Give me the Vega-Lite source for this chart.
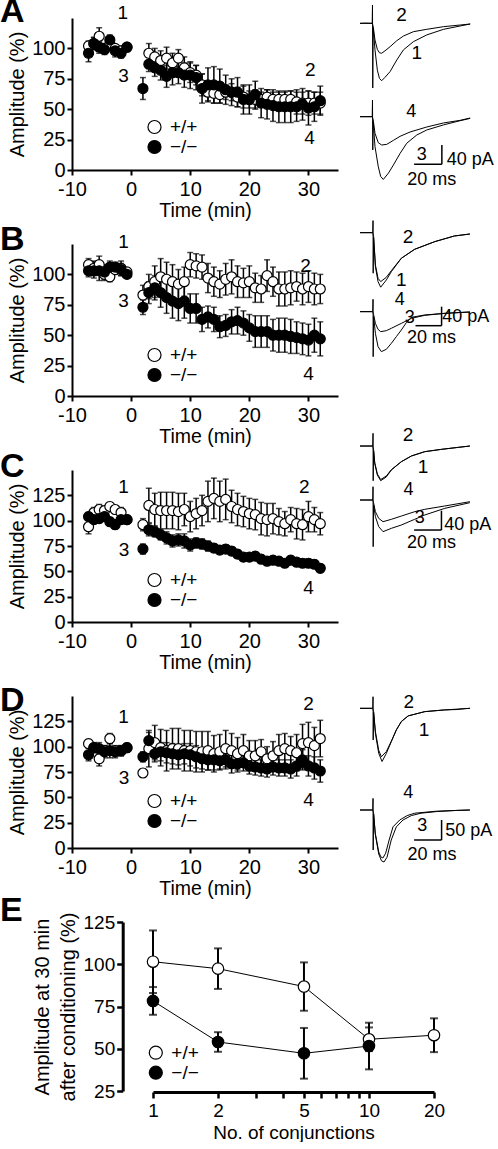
{
"$schema": "https://vega.github.io/schema/vega-lite/v6.json",
"padding": {"top": -5, "left": 0, "right": 0, "bottom": 0},
"background": "white",
"config": {
 "font": "Liberation Sans",
 "view": {"stroke": null},
 "axis": {"labelFont": "Liberation Sans", "titleFont": "Liberation Sans", "labelFontSize": 20, "titleFontSize": 20, "titleFontWeight": "normal", "labelColor": "black", "titleColor": "black", "domainColor": "black", "tickColor": "black", "domainWidth": 2, "tickWidth": 2, "tickSize": 5, "grid": false, "labelPadding": 2, "titlePadding": 4, "labelFlush": false, "labelOverlap": false},
 "axisX": {"titleFontSize": 19.5, "labelPadding": 4, "titlePadding": 2},
 "legend": {"labelFont": "Liberation Sans"},
 "text": {"font": "Liberation Sans", "fontSize": 19, "color": "black"},
 "title": {"font": "Liberation Sans", "fontSize": 34, "fontWeight": "bold", "anchor": "start", "frame": "group", "color": "black", "baseline": "alphabetic"}
},
"datasets": {
 "A": [
  {"g":"+/+","t":-7.2,"m":102,"e":4},{"g":"+/+","t":-6.3,"m":104,"e":5},{"g":"+/+","t":-5.4,"m":110,"e":7},{"g":"+/+","t":-4.5,"m":100,"e":4},{"g":"+/+","t":-3.6,"m":103,"e":4},{"g":"+/+","t":-2.7,"m":100,"e":3},{"g":"+/+","t":-1.7,"m":98,"e":4},{"g":"+/+","t":-0.7,"m":101,"e":3},
  {"g":"+/+","t":3,"m":96,"e":8},{"g":"+/+","t":4,"m":93,"e":7},{"g":"+/+","t":5,"m":90,"e":8},{"g":"+/+","t":6,"m":92,"e":9},{"g":"+/+","t":7,"m":88,"e":8},{"g":"+/+","t":8,"m":92,"e":7},{"g":"+/+","t":9,"m":84,"e":9},{"g":"+/+","t":10,"m":80,"e":8},{"g":"+/+","t":11,"m":78,"e":8},{"g":"+/+","t":12,"m":70,"e":9},{"g":"+/+","t":13,"m":64,"e":7},{"g":"+/+","t":14,"m":63,"e":8},{"g":"+/+","t":15,"m":62,"e":7},{"g":"+/+","t":16,"m":64,"e":6},{"g":"+/+","t":17,"m":64,"e":7},{"g":"+/+","t":18,"m":60,"e":8},{"g":"+/+","t":19,"m":60,"e":9},{"g":"+/+","t":20,"m":58,"e":7},{"g":"+/+","t":21,"m":58,"e":8},{"g":"+/+","t":22,"m":58,"e":6},{"g":"+/+","t":23,"m":60,"e":6},{"g":"+/+","t":24,"m":58,"e":6},{"g":"+/+","t":25,"m":58,"e":6},{"g":"+/+","t":26,"m":58,"e":6},{"g":"+/+","t":27,"m":58,"e":7},{"g":"+/+","t":28,"m":56,"e":10},{"g":"+/+","t":29,"m":55,"e":9},{"g":"+/+","t":30,"m":55,"e":10},{"g":"+/+","t":31,"m":55,"e":9},{"g":"+/+","t":32,"m":55,"e":9},
  {"g":"−/−","t":-7.2,"m":96,"e":7},{"g":"−/−","t":-6.3,"m":104,"e":5},{"g":"−/−","t":-5.4,"m":101,"e":5},{"g":"−/−","t":-4.5,"m":99,"e":4},{"g":"−/−","t":-3.6,"m":107,"e":4},{"g":"−/−","t":-2.7,"m":98,"e":5},{"g":"−/−","t":-1.7,"m":96,"e":4},{"g":"−/−","t":-0.7,"m":101,"e":3},
  {"g":"−/−","t":2,"m":67,"e":9},{"g":"−/−","t":3,"m":87,"e":6},{"g":"−/−","t":4,"m":84,"e":7},{"g":"−/−","t":5,"m":82,"e":8},{"g":"−/−","t":6,"m":77,"e":9},{"g":"−/−","t":7,"m":80,"e":10},{"g":"−/−","t":8,"m":80,"e":9},{"g":"−/−","t":9,"m":78,"e":10},{"g":"−/−","t":10,"m":78,"e":11},{"g":"−/−","t":11,"m":76,"e":10},{"g":"−/−","t":12,"m":67,"e":12},{"g":"−/−","t":13,"m":70,"e":14},{"g":"−/−","t":14,"m":70,"e":15},{"g":"−/−","t":15,"m":69,"e":14},{"g":"−/−","t":16,"m":66,"e":12},{"g":"−/−","t":17,"m":64,"e":11},{"g":"−/−","t":18,"m":64,"e":12},{"g":"−/−","t":19,"m":58,"e":12},{"g":"−/−","t":20,"m":58,"e":12},{"g":"−/−","t":21,"m":62,"e":11},{"g":"−/−","t":22,"m":55,"e":12},{"g":"−/−","t":23,"m":54,"e":12},{"g":"−/−","t":24,"m":53,"e":13},{"g":"−/−","t":25,"m":52,"e":13},{"g":"−/−","t":26,"m":52,"e":13},{"g":"−/−","t":27,"m":52,"e":13},{"g":"−/−","t":28,"m":52,"e":12},{"g":"−/−","t":29,"m":54,"e":13},{"g":"−/−","t":30,"m":51,"e":14},{"g":"−/−","t":31,"m":52,"e":12},{"g":"−/−","t":32,"m":57,"e":12}
 ],
 "B": [
  {"g":"+/+","t":-7.2,"m":108,"e":5},{"g":"+/+","t":-6.3,"m":105,"e":6},{"g":"+/+","t":-5.4,"m":108,"e":7},{"g":"+/+","t":-4.5,"m":100,"e":5},{"g":"+/+","t":-3.6,"m":98,"e":4},{"g":"+/+","t":-2.7,"m":104,"e":4},{"g":"+/+","t":-1.7,"m":105,"e":6},{"g":"+/+","t":-0.7,"m":102,"e":3},
  {"g":"+/+","t":2,"m":83,"e":8},{"g":"+/+","t":3,"m":90,"e":10},{"g":"+/+","t":4,"m":94,"e":13},{"g":"+/+","t":5,"m":98,"e":15},{"g":"+/+","t":6,"m":96,"e":14},{"g":"+/+","t":7,"m":94,"e":14},{"g":"+/+","t":8,"m":92,"e":12},{"g":"+/+","t":9,"m":94,"e":12},{"g":"+/+","t":10,"m":108,"e":10},{"g":"+/+","t":11,"m":107,"e":10},{"g":"+/+","t":12,"m":106,"e":10},{"g":"+/+","t":13,"m":97,"e":12},{"g":"+/+","t":14,"m":94,"e":12},{"g":"+/+","t":15,"m":92,"e":11},{"g":"+/+","t":16,"m":96,"e":13},{"g":"+/+","t":17,"m":98,"e":14},{"g":"+/+","t":18,"m":94,"e":13},{"g":"+/+","t":19,"m":93,"e":12},{"g":"+/+","t":20,"m":94,"e":13},{"g":"+/+","t":21,"m":89,"e":12},{"g":"+/+","t":22,"m":88,"e":11},{"g":"+/+","t":23,"m":99,"e":13},{"g":"+/+","t":24,"m":94,"e":12},{"g":"+/+","t":25,"m":88,"e":14},{"g":"+/+","t":26,"m":88,"e":14},{"g":"+/+","t":27,"m":89,"e":14},{"g":"+/+","t":28,"m":90,"e":12},{"g":"+/+","t":29,"m":88,"e":13},{"g":"+/+","t":30,"m":90,"e":13},{"g":"+/+","t":31,"m":88,"e":13},{"g":"+/+","t":32,"m":88,"e":12},
  {"g":"−/−","t":-7.2,"m":103,"e":5},{"g":"−/−","t":-6.3,"m":103,"e":6},{"g":"−/−","t":-5.4,"m":103,"e":8},{"g":"−/−","t":-4.5,"m":102,"e":6},{"g":"−/−","t":-3.6,"m":106,"e":5},{"g":"−/−","t":-2.7,"m":106,"e":4},{"g":"−/−","t":-1.7,"m":104,"e":5},{"g":"−/−","t":-0.7,"m":100,"e":3},
  {"g":"−/−","t":2,"m":73,"e":6},{"g":"−/−","t":3,"m":85,"e":9},{"g":"−/−","t":4,"m":89,"e":10},{"g":"−/−","t":5,"m":85,"e":12},{"g":"−/−","t":6,"m":81,"e":13},{"g":"−/−","t":7,"m":78,"e":14},{"g":"−/−","t":8,"m":76,"e":14},{"g":"−/−","t":9,"m":78,"e":14},{"g":"−/−","t":10,"m":72,"e":12},{"g":"−/−","t":11,"m":72,"e":12},{"g":"−/−","t":12,"m":63,"e":10},{"g":"−/−","t":13,"m":65,"e":9},{"g":"−/−","t":14,"m":63,"e":10},{"g":"−/−","t":15,"m":57,"e":9},{"g":"−/−","t":16,"m":58,"e":9},{"g":"−/−","t":17,"m":61,"e":10},{"g":"−/−","t":18,"m":62,"e":11},{"g":"−/−","t":19,"m":60,"e":10},{"g":"−/−","t":20,"m":56,"e":11},{"g":"−/−","t":21,"m":53,"e":13},{"g":"−/−","t":22,"m":53,"e":13},{"g":"−/−","t":23,"m":53,"e":13},{"g":"−/−","t":24,"m":50,"e":13},{"g":"−/−","t":25,"m":50,"e":14},{"g":"−/−","t":26,"m":50,"e":14},{"g":"−/−","t":27,"m":49,"e":14},{"g":"−/−","t":28,"m":48,"e":13},{"g":"−/−","t":29,"m":47,"e":13},{"g":"−/−","t":30,"m":46,"e":13},{"g":"−/−","t":31,"m":50,"e":14},{"g":"−/−","t":32,"m":47,"e":14}
 ],
 "C": [
  {"g":"+/+","t":-7.2,"m":94,"e":7},{"g":"+/+","t":-6.3,"m":108,"e":5},{"g":"+/+","t":-5.4,"m":111,"e":5},{"g":"+/+","t":-4.5,"m":110,"e":4},{"g":"+/+","t":-3.6,"m":114,"e":4},{"g":"+/+","t":-2.7,"m":111,"e":4},{"g":"+/+","t":-1.7,"m":108,"e":5},{"g":"+/+","t":-0.7,"m":101,"e":4},
  {"g":"+/+","t":2,"m":96,"e":6},{"g":"+/+","t":3,"m":115,"e":17},{"g":"+/+","t":4,"m":111,"e":16},{"g":"+/+","t":5,"m":110,"e":18},{"g":"+/+","t":6,"m":110,"e":18},{"g":"+/+","t":7,"m":110,"e":18},{"g":"+/+","t":8,"m":109,"e":18},{"g":"+/+","t":9,"m":111,"e":16},{"g":"+/+","t":10,"m":104,"e":15},{"g":"+/+","t":11,"m":107,"e":15},{"g":"+/+","t":12,"m":110,"e":15},{"g":"+/+","t":13,"m":119,"e":20},{"g":"+/+","t":14,"m":122,"e":20},{"g":"+/+","t":15,"m":119,"e":20},{"g":"+/+","t":16,"m":121,"e":20},{"g":"+/+","t":17,"m":114,"e":16},{"g":"+/+","t":18,"m":111,"e":16},{"g":"+/+","t":19,"m":109,"e":15},{"g":"+/+","t":20,"m":107,"e":15},{"g":"+/+","t":21,"m":106,"e":15},{"g":"+/+","t":22,"m":102,"e":16},{"g":"+/+","t":23,"m":101,"e":16},{"g":"+/+","t":24,"m":102,"e":15},{"g":"+/+","t":25,"m":99,"e":13},{"g":"+/+","t":26,"m":97,"e":12},{"g":"+/+","t":27,"m":101,"e":12},{"g":"+/+","t":28,"m":97,"e":15},{"g":"+/+","t":29,"m":96,"e":15},{"g":"+/+","t":30,"m":104,"e":15},{"g":"+/+","t":31,"m":101,"e":12},{"g":"+/+","t":32,"m":97,"e":11},
  {"g":"−/−","t":-7.2,"m":104,"e":4},{"g":"−/−","t":-6.3,"m":101,"e":4},{"g":"−/−","t":-5.4,"m":102,"e":4},{"g":"−/−","t":-4.5,"m":104,"e":4},{"g":"−/−","t":-3.6,"m":99,"e":4},{"g":"−/−","t":-2.7,"m":96,"e":4},{"g":"−/−","t":-1.7,"m":101,"e":4},{"g":"−/−","t":-0.7,"m":101,"e":3},
  {"g":"−/−","t":2,"m":72,"e":5},{"g":"−/−","t":3,"m":91,"e":6},{"g":"−/−","t":4,"m":89,"e":5},{"g":"−/−","t":5,"m":86,"e":5},{"g":"−/−","t":6,"m":83,"e":6},{"g":"−/−","t":7,"m":80,"e":6},{"g":"−/−","t":8,"m":81,"e":6},{"g":"−/−","t":9,"m":80,"e":7},{"g":"−/−","t":10,"m":76,"e":6},{"g":"−/−","t":11,"m":78,"e":5},{"g":"−/−","t":12,"m":77,"e":5},{"g":"−/−","t":13,"m":75,"e":5},{"g":"−/−","t":14,"m":73,"e":4},{"g":"−/−","t":15,"m":71,"e":4},{"g":"−/−","t":16,"m":72,"e":4},{"g":"−/−","t":17,"m":70,"e":4},{"g":"−/−","t":18,"m":67,"e":4},{"g":"−/−","t":19,"m":64,"e":4},{"g":"−/−","t":20,"m":64,"e":4},{"g":"−/−","t":21,"m":65,"e":4},{"g":"−/−","t":22,"m":62,"e":4},{"g":"−/−","t":23,"m":60,"e":4},{"g":"−/−","t":24,"m":61,"e":4},{"g":"−/−","t":25,"m":60,"e":4},{"g":"−/−","t":26,"m":58,"e":4},{"g":"−/−","t":27,"m":61,"e":4},{"g":"−/−","t":28,"m":59,"e":4},{"g":"−/−","t":29,"m":58,"e":4},{"g":"−/−","t":30,"m":58,"e":4},{"g":"−/−","t":31,"m":57,"e":4},{"g":"−/−","t":32,"m":53,"e":4}
 ],
 "D": [
  {"g":"+/+","t":-7.2,"m":103,"e":4},{"g":"+/+","t":-6.3,"m":99,"e":4},{"g":"+/+","t":-5.4,"m":88,"e":7},{"g":"+/+","t":-4.5,"m":96,"e":5},{"g":"+/+","t":-3.6,"m":108,"e":5},{"g":"+/+","t":-2.7,"m":96,"e":4},{"g":"+/+","t":-1.7,"m":96,"e":5},{"g":"+/+","t":-0.7,"m":99,"e":4},
  {"g":"+/+","t":2,"m":74,"e":4},{"g":"+/+","t":3,"m":98,"e":18},{"g":"+/+","t":4,"m":104,"e":17},{"g":"+/+","t":5,"m":99,"e":18},{"g":"+/+","t":6,"m":96,"e":20},{"g":"+/+","t":7,"m":98,"e":20},{"g":"+/+","t":8,"m":98,"e":20},{"g":"+/+","t":9,"m":96,"e":20},{"g":"+/+","t":10,"m":96,"e":20},{"g":"+/+","t":11,"m":95,"e":20},{"g":"+/+","t":12,"m":95,"e":20},{"g":"+/+","t":13,"m":96,"e":19},{"g":"+/+","t":14,"m":93,"e":18},{"g":"+/+","t":15,"m":95,"e":17},{"g":"+/+","t":16,"m":98,"e":18},{"g":"+/+","t":17,"m":96,"e":17},{"g":"+/+","t":18,"m":93,"e":16},{"g":"+/+","t":19,"m":96,"e":16},{"g":"+/+","t":20,"m":91,"e":15},{"g":"+/+","t":21,"m":91,"e":15},{"g":"+/+","t":22,"m":95,"e":12},{"g":"+/+","t":23,"m":88,"e":12},{"g":"+/+","t":24,"m":91,"e":14},{"g":"+/+","t":25,"m":96,"e":16},{"g":"+/+","t":26,"m":98,"e":15},{"g":"+/+","t":27,"m":96,"e":14},{"g":"+/+","t":28,"m":94,"e":18},{"g":"+/+","t":29,"m":103,"e":19},{"g":"+/+","t":30,"m":104,"e":20},{"g":"+/+","t":31,"m":101,"e":18},{"g":"+/+","t":32,"m":108,"e":18},
  {"g":"−/−","t":-7.2,"m":92,"e":6},{"g":"−/−","t":-6.3,"m":99,"e":5},{"g":"−/−","t":-5.4,"m":98,"e":6},{"g":"−/−","t":-4.5,"m":95,"e":6},{"g":"−/−","t":-3.6,"m":96,"e":7},{"g":"−/−","t":-2.7,"m":95,"e":6},{"g":"−/−","t":-1.7,"m":96,"e":5},{"g":"−/−","t":-0.7,"m":99,"e":4},
  {"g":"−/−","t":2,"m":90,"e":5},{"g":"−/−","t":3,"m":106,"e":8},{"g":"−/−","t":4,"m":93,"e":8},{"g":"−/−","t":5,"m":95,"e":9},{"g":"−/−","t":6,"m":94,"e":10},{"g":"−/−","t":7,"m":93,"e":10},{"g":"−/−","t":8,"m":92,"e":10},{"g":"−/−","t":9,"m":93,"e":10},{"g":"−/−","t":10,"m":92,"e":11},{"g":"−/−","t":11,"m":90,"e":11},{"g":"−/−","t":12,"m":88,"e":10},{"g":"−/−","t":13,"m":87,"e":10},{"g":"−/−","t":14,"m":87,"e":10},{"g":"−/−","t":15,"m":86,"e":9},{"g":"−/−","t":16,"m":87,"e":9},{"g":"−/−","t":17,"m":83,"e":9},{"g":"−/−","t":18,"m":83,"e":8},{"g":"−/−","t":19,"m":84,"e":8},{"g":"−/−","t":20,"m":81,"e":8},{"g":"−/−","t":21,"m":80,"e":8},{"g":"−/−","t":22,"m":79,"e":8},{"g":"−/−","t":23,"m":78,"e":8},{"g":"−/−","t":24,"m":80,"e":8},{"g":"−/−","t":25,"m":79,"e":8},{"g":"−/−","t":26,"m":79,"e":8},{"g":"−/−","t":27,"m":78,"e":9},{"g":"−/−","t":28,"m":81,"e":10},{"g":"−/−","t":29,"m":87,"e":10},{"g":"−/−","t":30,"m":81,"e":10},{"g":"−/−","t":31,"m":79,"e":11},{"g":"−/−","t":32,"m":76,"e":11}
 ],
 "E": [
  {"g":"+/+","n":1,"m":101.5,"e":18.5},{"g":"+/+","n":2,"m":97.4,"e":12},{"g":"+/+","n":5,"m":86.8,"e":14.3},{"g":"+/+","n":10,"m":55.6,"e":7},{"g":"+/+","n":20,"m":58,"e":10},
  {"g":"−/−","n":1,"m":78.3,"e":8.2},{"g":"−/−","n":2,"m":54,"e":5.8},{"g":"−/−","n":5,"m":47.3,"e":15},{"g":"−/−","n":10,"m":51.6,"e":13.8}
 ],
 "lA": [{"label":"1","t":-1.4,"m":129},{"label":"3","t":-1.3,"m":77.7},{"label":"2","t":30.3,"m":82.6},{"label":"4","t":30.2,"m":26.4}],
 "lB": [{"label":"1","t":-1.3,"m":127},{"label":"3","t":-1.3,"m":78},{"label":"2","t":29.5,"m":106.5},{"label":"4","t":30,"m":18}],
 "lC": [{"label":"1","t":-1.3,"m":133.7},{"label":"3","t":-1.2,"m":71},{"label":"2","t":29.3,"m":133.7},{"label":"4","t":30,"m":33.7}],
 "lD": [{"label":"1","t":-1.3,"m":129},{"label":"3","t":-1.2,"m":68.6},{"label":"2","t":30,"m":142},{"label":"4","t":30,"m":47}],
 "tA1": [
  {"tr":"1","ms":0,"pA":0},{"tr":"1","ms":4,"pA":0.5},{"tr":"1","ms":8.8,"pA":0},{"tr":"1","ms":9.0,"pA":38},{"tr":"1","ms":9.2,"pA":-134},{"tr":"1","ms":9.5,"pA":-10},{"tr":"1","ms":10.8,"pA":-55},{"tr":"1","ms":12.5,"pA":-97},{"tr":"1","ms":14,"pA":-114},{"tr":"1","ms":15.6,"pA":-119},{"tr":"1","ms":18,"pA":-112},{"tr":"1","ms":21.7,"pA":-100},{"tr":"1","ms":26.5,"pA":-76},{"tr":"1","ms":31.3,"pA":-55},{"tr":"1","ms":38.5,"pA":-38},{"tr":"1","ms":48.1,"pA":-24},{"tr":"1","ms":60.2,"pA":-12.4},{"tr":"1","ms":72.2,"pA":-5.5},{"tr":"1","ms":79.4,"pA":-1.4},
  {"tr":"2","ms":0,"pA":0},{"tr":"2","ms":8.8,"pA":0},{"tr":"2","ms":9.5,"pA":-6},{"tr":"2","ms":10.8,"pA":-34.5},{"tr":"2","ms":12.5,"pA":-54},{"tr":"2","ms":14,"pA":-61},{"tr":"2","ms":15.6,"pA":-62},{"tr":"2","ms":18,"pA":-57},{"tr":"2","ms":21.7,"pA":-48.4},{"tr":"2","ms":26.5,"pA":-36},{"tr":"2","ms":31.3,"pA":-26.3},{"tr":"2","ms":38.5,"pA":-17.3},{"tr":"2","ms":48.1,"pA":-12.4},{"tr":"2","ms":60.2,"pA":-6.9},{"tr":"2","ms":72.2,"pA":-3.5},{"tr":"2","ms":79.4,"pA":-1.4}
 ],
 "tA2": [
  {"tr":"3","ms":0,"pA":0},{"tr":"3","ms":8.8,"pA":0},{"tr":"3","ms":9.0,"pA":34.5},{"tr":"3","ms":9.2,"pA":-69},{"tr":"3","ms":9.5,"pA":-10},{"tr":"3","ms":10.8,"pA":-62},{"tr":"3","ms":13.2,"pA":-104},{"tr":"3","ms":14.9,"pA":-124},{"tr":"3","ms":16.8,"pA":-130},{"tr":"3","ms":20.5,"pA":-117},{"tr":"3","ms":24.1,"pA":-100},{"tr":"3","ms":28.9,"pA":-76},{"tr":"3","ms":33.7,"pA":-55},{"tr":"3","ms":40.9,"pA":-38},{"tr":"3","ms":48.1,"pA":-27.6},{"tr":"3","ms":60.2,"pA":-17},{"tr":"3","ms":72.2,"pA":-8.3},{"tr":"3","ms":79.4,"pA":-3.5},
  {"tr":"4","ms":0,"pA":0},{"tr":"4","ms":8.8,"pA":0},{"tr":"4","ms":9.5,"pA":-6},{"tr":"4","ms":10.8,"pA":-34.5},{"tr":"4","ms":13.2,"pA":-54},{"tr":"4","ms":15.6,"pA":-58.7},{"tr":"4","ms":19.3,"pA":-57.3},{"tr":"4","ms":24.1,"pA":-49},{"tr":"4","ms":28.9,"pA":-40.7},{"tr":"4","ms":36.1,"pA":-31.7},{"tr":"4","ms":48.1,"pA":-21.4},{"tr":"4","ms":60.2,"pA":-13},{"tr":"4","ms":72.2,"pA":-7.6},{"tr":"4","ms":79.4,"pA":-2.8}
 ],
 "lA1": [{"label":"2","ms":30,"pA":17},{"label":"1","ms":41,"pA":-62}],
 "lA2": [{"label":"4","ms":37,"pA":10},{"label":"3","ms":44.5,"pA":-79},{"label":"40 pA","ms":79.4,"pA":-90},{"label":"20 ms","ms":51.7,"pA":-131}],
 "sA": [{"ms":39,"ms2":59,"pA":-98.6,"pA2":-98.6},{"ms":59,"ms2":59,"pA":-98.6,"pA2":-58.6}],
 "tB1": [
  {"tr":"1","ms":0,"pA":0},{"tr":"1","ms":9.2,"pA":0},{"tr":"1","ms":9.4,"pA":25},{"tr":"1","ms":9.5,"pA":-84},{"tr":"1","ms":9.8,"pA":-10},{"tr":"1","ms":11.1,"pA":-70},{"tr":"1","ms":13,"pA":-101.5},{"tr":"1","ms":14.9,"pA":-113},{"tr":"1","ms":19,"pA":-98},{"tr":"1","ms":22.6,"pA":-80.8},{"tr":"1","ms":29.8,"pA":-53},{"tr":"1","ms":39.4,"pA":-34.5},{"tr":"1","ms":53.9,"pA":-18.6},{"tr":"1","ms":68,"pA":-6.9},{"tr":"1","ms":79.2,"pA":-2.8},
  {"tr":"2","ms":0,"pA":0},{"tr":"2","ms":9.2,"pA":0},{"tr":"2","ms":9.8,"pA":-8},{"tr":"2","ms":11.1,"pA":-67},{"tr":"2","ms":13,"pA":-94.6},{"tr":"2","ms":14.9,"pA":-101.5},{"tr":"2","ms":19,"pA":-92.5},{"tr":"2","ms":22.6,"pA":-78.7},{"tr":"2","ms":29.8,"pA":-53},{"tr":"2","ms":39.4,"pA":-34.5},{"tr":"2","ms":53.9,"pA":-18.6},{"tr":"2","ms":68,"pA":-6.9},{"tr":"2","ms":79.2,"pA":-2.8}
 ],
 "tB2": [
  {"tr":"3","ms":0,"pA":0},{"tr":"3","ms":9.2,"pA":0},{"tr":"3","ms":9.4,"pA":25.6},{"tr":"3","ms":9.5,"pA":-93.3},{"tr":"3","ms":9.8,"pA":-10},{"tr":"3","ms":11.1,"pA":-44.9},{"tr":"3","ms":13,"pA":-72.5},{"tr":"3","ms":15.4,"pA":-82.9},{"tr":"3","ms":19,"pA":-78},{"tr":"3","ms":22.6,"pA":-65.6},{"tr":"3","ms":26.2,"pA":-51.8},{"tr":"3","ms":29.8,"pA":-38},{"tr":"3","ms":33.4,"pA":-22.8},{"tr":"3","ms":37.1,"pA":-11.7},{"tr":"3","ms":46.7,"pA":-6.9},{"tr":"3","ms":61.1,"pA":-3.5},{"tr":"3","ms":79.2,"pA":-0.7},
  {"tr":"4","ms":0,"pA":0},{"tr":"4","ms":9.2,"pA":0},{"tr":"4","ms":9.8,"pA":-6},{"tr":"4","ms":11.1,"pA":-24.2},{"tr":"4","ms":13,"pA":-36.6},{"tr":"4","ms":14.9,"pA":-41.4},{"tr":"4","ms":19,"pA":-39.4},{"tr":"4","ms":22.6,"pA":-34.5},{"tr":"4","ms":29.8,"pA":-24.2},{"tr":"4","ms":37.1,"pA":-13.8},{"tr":"4","ms":46.7,"pA":-7.6},{"tr":"4","ms":61.1,"pA":-3.5},{"tr":"4","ms":79.2,"pA":-0.7}
 ],
 "lB1": [{"label":"2","ms":34.7,"pA":-8.3},{"label":"1","ms":29.8,"pA":-98}],
 "lB2": [{"label":"4","ms":28.7,"pA":24.2},{"label":"3","ms":35.9,"pA":-13.8},{"label":"40 pA","ms":76.2,"pA":-10.4},{"label":"20 ms","ms":51.5,"pA":-55}],
 "sB": [{"ms":40,"ms2":58.8,"pA":-29.1,"pA2":-29.1},{"ms":58.8,"ms2":58.8,"pA":-29.1,"pA2":10.3}],
 "tC1": [
  {"tr":"1","ms":0,"pA":0},{"tr":"1","ms":9.2,"pA":0},{"tr":"1","ms":9.4,"pA":26.3},{"tr":"1","ms":9.5,"pA":-72},{"tr":"1","ms":9.8,"pA":-10},{"tr":"1","ms":10.6,"pA":-36},{"tr":"1","ms":12.5,"pA":-60},{"tr":"1","ms":14.9,"pA":-71.9},{"tr":"1","ms":19,"pA":-64},{"tr":"1","ms":22.6,"pA":-49.7},{"tr":"1","ms":29.8,"pA":-32.5},{"tr":"1","ms":37,"pA":-20.7},{"tr":"1","ms":46.7,"pA":-11.7},{"tr":"1","ms":58.7,"pA":-6.9},{"tr":"1","ms":70.7,"pA":-2.8},{"tr":"1","ms":79.2,"pA":0},
  {"tr":"2","ms":0,"pA":0},{"tr":"2","ms":9.2,"pA":0},{"tr":"2","ms":9.8,"pA":-8},{"tr":"2","ms":10.6,"pA":-34},{"tr":"2","ms":12.5,"pA":-58},{"tr":"2","ms":14.9,"pA":-69.5},{"tr":"2","ms":19,"pA":-62},{"tr":"2","ms":22.6,"pA":-49},{"tr":"2","ms":29.8,"pA":-32.5},{"tr":"2","ms":37,"pA":-20.7},{"tr":"2","ms":46.7,"pA":-11.7},{"tr":"2","ms":58.7,"pA":-6.9},{"tr":"2","ms":70.7,"pA":-2.8},{"tr":"2","ms":79.2,"pA":0}
 ],
 "tC2": [
  {"tr":"3","ms":0,"pA":0},{"tr":"3","ms":9.2,"pA":0},{"tr":"3","ms":9.4,"pA":27.6},{"tr":"3","ms":9.5,"pA":-96.7},{"tr":"3","ms":9.8,"pA":-10},{"tr":"3","ms":11.1,"pA":-34.5},{"tr":"3","ms":13.5,"pA":-55.3},{"tr":"3","ms":16.6,"pA":-65.6},{"tr":"3","ms":22.6,"pA":-58.7},{"tr":"3","ms":29.8,"pA":-51.8},{"tr":"3","ms":39.4,"pA":-40},{"tr":"3","ms":46.7,"pA":-31},{"tr":"3","ms":61.1,"pA":-17.3},{"tr":"3","ms":79.2,"pA":-5.5},
  {"tr":"4","ms":0,"pA":0},{"tr":"4","ms":9.2,"pA":0},{"tr":"4","ms":9.8,"pA":-6},{"tr":"4","ms":11.1,"pA":-24.2},{"tr":"4","ms":13.5,"pA":-38},{"tr":"4","ms":16.6,"pA":-44.9},{"tr":"4","ms":22.6,"pA":-40},{"tr":"4","ms":29.8,"pA":-33.2},{"tr":"4","ms":39.4,"pA":-24.2},{"tr":"4","ms":46.7,"pA":-19.3},{"tr":"4","ms":61.1,"pA":-12.4},{"tr":"4","ms":79.2,"pA":-3.5}
 ],
 "lC1": [{"label":"2","ms":34.7,"pA":22.8},{"label":"1","ms":45.5,"pA":-43}],
 "lC2": [{"label":"4","ms":35,"pA":20.7},{"label":"3","ms":43,"pA":-38},{"label":"40 pA","ms":77.6,"pA":-51.8},{"label":"20 ms","ms":51.5,"pA":-90}],
 "sC": [{"ms":39,"ms2":58.7,"pA":-62.2,"pA2":-62.2},{"ms":58.7,"ms2":58.7,"pA":-62.2,"pA2":-22.2}],
 "tD1": [
  {"tr":"1","ms":0,"pA":0},{"tr":"1","ms":9.2,"pA":0},{"tr":"1","ms":9.4,"pA":29},{"tr":"1","ms":9.5,"pA":-79},{"tr":"1","ms":9.8,"pA":-10},{"tr":"1","ms":11.1,"pA":-62.5},{"tr":"1","ms":13.5,"pA":-112.5},{"tr":"1","ms":15.9,"pA":-133},{"tr":"1","ms":19,"pA":-112.5},{"tr":"1","ms":22.6,"pA":-83},{"tr":"1","ms":26.2,"pA":-54},{"tr":"1","ms":29.8,"pA":-33},{"tr":"1","ms":34.7,"pA":-19},{"tr":"1","ms":46.7,"pA":-8.3},{"tr":"1","ms":61,"pA":-4},{"tr":"1","ms":79.2,"pA":0},
  {"tr":"2","ms":0,"pA":0},{"tr":"2","ms":9.2,"pA":0},{"tr":"2","ms":9.8,"pA":-8},{"tr":"2","ms":11.1,"pA":-58},{"tr":"2","ms":13.5,"pA":-105},{"tr":"2","ms":15.4,"pA":-121},{"tr":"2","ms":19,"pA":-108},{"tr":"2","ms":22.6,"pA":-82},{"tr":"2","ms":26.2,"pA":-54},{"tr":"2","ms":29.8,"pA":-33},{"tr":"2","ms":34.7,"pA":-19},{"tr":"2","ms":46.7,"pA":-8.3},{"tr":"2","ms":61,"pA":-4},{"tr":"2","ms":70,"pA":-3},{"tr":"2","ms":75,"pA":-1},{"tr":"2","ms":79.2,"pA":0}
 ],
 "tD2": [
  {"tr":"3","ms":0,"pA":0},{"tr":"3","ms":9.2,"pA":0},{"tr":"3","ms":9.4,"pA":29},{"tr":"3","ms":9.5,"pA":-100},{"tr":"3","ms":9.8,"pA":-10},{"tr":"3","ms":11,"pA":-60},{"tr":"3","ms":13.5,"pA":-110},{"tr":"3","ms":15.5,"pA":-127},{"tr":"3","ms":17.3,"pA":-130},{"tr":"3","ms":19.5,"pA":-118},{"tr":"3","ms":22.5,"pA":-75},{"tr":"3","ms":26.2,"pA":-42},{"tr":"3","ms":31,"pA":-25},{"tr":"3","ms":37,"pA":-14},{"tr":"3","ms":44,"pA":-8},{"tr":"3","ms":55,"pA":-4},{"tr":"3","ms":70,"pA":-1},{"tr":"3","ms":79.2,"pA":0},
  {"tr":"4","ms":0,"pA":0},{"tr":"4","ms":9.2,"pA":0},{"tr":"4","ms":9.8,"pA":-8},{"tr":"4","ms":11,"pA":-58},{"tr":"4","ms":13.5,"pA":-105},{"tr":"4","ms":15,"pA":-117},{"tr":"4","ms":16.5,"pA":-120},{"tr":"4","ms":18.5,"pA":-108},{"tr":"4","ms":21,"pA":-75},{"tr":"4","ms":23.8,"pA":-42},{"tr":"4","ms":28.6,"pA":-25},{"tr":"4","ms":34,"pA":-14},{"tr":"4","ms":39.5,"pA":-8},{"tr":"4","ms":55,"pA":-3},{"tr":"4","ms":70,"pA":-1},{"tr":"4","ms":79.2,"pA":0}
 ],
 "lD1": [{"label":"2","ms":35.2,"pA":16.6},{"label":"1","ms":46.2,"pA":-54}],
 "lD2": [{"label":"4","ms":34.7,"pA":42},{"label":"3","ms":44.8,"pA":-40},{"label":"50 pA","ms":78.3,"pA":-52},{"label":"20 ms","ms":51.9,"pA":-112}],
 "sD": [{"ms":39,"ms2":58.8,"pA":-75,"pA2":-75},{"ms":58.8,"ms2":58.8,"pA":-75,"pA2":-25}]
},
"concat": [
  {"width": 266, "height": 152,
   "title": {"text": "A", "dx": -72, "offset": -25},
   "data": {"name": "A"},
   "encoding": {
    "x": {"field": "t", "type": "quantitative", "scale": {"domain": [-10, 35], "nice": false, "zero": false}, "axis": {"values": [-10, 0, 10, 20, 30], "labelExpr": "replace(datum.label, '−', '-')", "title": "Time (min)"}},
    "y": {"field": "m", "type": "quantitative", "scale": {"domain": [0, 125], "nice": false}, "axis": {"values": [0, 25, 50, 75, 100], "title": "Amplitude (%)"}}
   },
   "layer": [
    {"data": {"values": [{}]}, "mark": {"type": "rule", "strokeDash": [3, 3], "strokeWidth": 1.2, "color": "black"}, "encoding": {"x": {"datum": 0}, "x2": {"datum": 33}, "y": {"datum": 100}}},
    {"mark": {"type": "errorbar", "color": "black", "thickness": 1.5, "ticks": {"size": 6, "thickness": 1.5, "color": "black"}, "rule": {"strokeWidth": 1.5, "color": "black"}}, "encoding": {"yError": {"field": "e"}}},
    {"mark": {"type": "point", "shape": "circle", "filled": true, "size": 100, "stroke": "black", "strokeWidth": 1.2, "opacity": 1}, "encoding": {"fill": {"field": "g", "type": "nominal", "scale": {"domain": ["+/+", "−/−"], "range": ["white", "black"]}, "legend": {"title": null, "orient": "none", "legendX": 73, "legendY": 99.5, "symbolType": "circle", "symbolSize": 170, "symbolStrokeColor": "black", "symbolStrokeWidth": 1.2, "symbolOpacity": 1, "labelFontSize": 19, "labelColor": "black", "labelOffset": 6, "rowPadding": -1, "padding": 0}}}},
    {"data": {"name": "lA"}, "mark": {"type": "text", "fontSize": 19}, "encoding": {"text": {"field": "label"}}}
   ]
  },
  {"width": 111, "height": 152,
   "resolve": {"scale": {"y": "independent"}},
   "encoding": {"x": {"field": "ms", "type": "quantitative", "scale": {"domain": [0, 80], "nice": false, "zero": false}, "axis": null}},
   "layer": [
    {"data": {"name": "tA1"}, "mark": {"type": "line", "color": "black", "strokeWidth": 1}, "encoding": {"y": {"field": "pA", "type": "quantitative", "scale": {"domain": [-304, 11.05], "nice": false, "zero": false}, "axis": null}, "detail": {"field": "tr"}}},
    {"data": {"name": "lA1"}, "mark": {"type": "text", "fontSize": 19}, "encoding": {"y": {"field": "pA", "type": "quantitative", "scale": {"domain": [-304, 11.05], "nice": false, "zero": false}, "axis": null}, "text": {"field": "label"}}},
    {"data": {"name": "tA2"}, "mark": {"type": "line", "color": "black", "strokeWidth": 1}, "encoding": {"y": {"field": "pA", "type": "quantitative", "scale": {"domain": [-110.5, 204.5], "nice": false, "zero": false}, "axis": null}, "detail": {"field": "tr"}}},
    {"data": {"name": "lA2"}, "mark": {"type": "text", "fontSize": 18}, "encoding": {"y": {"field": "pA", "type": "quantitative", "scale": {"domain": [-110.5, 204.5], "nice": false, "zero": false}, "axis": null}, "text": {"field": "label"}}},
    {"data": {"name": "sA"}, "mark": {"type": "rule", "color": "black", "strokeWidth": 1.5}, "encoding": {"x2": {"field": "ms2"}, "y": {"field": "pA", "type": "quantitative", "scale": {"domain": [-110.5, 204.5], "nice": false, "zero": false}, "axis": null}, "y2": {"field": "pA2"}}}
   ]
  },
  {"width": 266, "height": 152,
   "title": {"text": "B", "dx": -72, "offset": -24},
   "data": {"name": "B"},
   "encoding": {
    "x": {"field": "t", "type": "quantitative", "scale": {"domain": [-10, 35], "nice": false, "zero": false}, "axis": {"values": [-10, 0, 10, 20, 30], "labelExpr": "replace(datum.label, '−', '-')", "title": "Time (min)"}},
    "y": {"field": "m", "type": "quantitative", "scale": {"domain": [0, 125], "nice": false}, "axis": {"values": [0, 25, 50, 75, 100], "title": "Amplitude (%)"}}
   },
   "layer": [
    {"data": {"values": [{}]}, "mark": {"type": "rule", "strokeDash": [3, 3], "strokeWidth": 1.2, "color": "black"}, "encoding": {"x": {"datum": 0}, "x2": {"datum": 33}, "y": {"datum": 100}}},
    {"mark": {"type": "errorbar", "color": "black", "thickness": 1.5, "ticks": {"size": 6, "thickness": 1.5, "color": "black"}, "rule": {"strokeWidth": 1.5, "color": "black"}}, "encoding": {"yError": {"field": "e"}}},
    {"mark": {"type": "point", "shape": "circle", "filled": true, "size": 100, "stroke": "black", "strokeWidth": 1.2, "opacity": 1}, "encoding": {"fill": {"field": "g", "type": "nominal", "scale": {"domain": ["+/+", "−/−"], "range": ["white", "black"]}, "legend": {"title": null, "orient": "none", "legendX": 73, "legendY": 101.5, "symbolType": "circle", "symbolSize": 170, "symbolStrokeColor": "black", "symbolStrokeWidth": 1.2, "symbolOpacity": 1, "labelFontSize": 19, "labelColor": "black", "labelOffset": 6, "rowPadding": -1, "padding": 0}}}},
    {"data": {"name": "lB"}, "mark": {"type": "text", "fontSize": 19}, "encoding": {"text": {"field": "label"}}}
   ]
  },
  {"width": 111, "height": 152,
   "resolve": {"scale": {"y": "independent"}},
   "encoding": {"x": {"field": "ms", "type": "quantitative", "scale": {"domain": [0, 80], "nice": false, "zero": false}, "axis": null}},
   "layer": [
    {"data": {"name": "tB1"}, "mark": {"type": "line", "color": "black", "strokeWidth": 1}, "encoding": {"y": {"field": "pA", "type": "quantitative", "scale": {"domain": [-338.5, -23.5], "nice": false, "zero": false}, "axis": null}, "detail": {"field": "tr"}}},
    {"data": {"name": "lB1"}, "mark": {"type": "text", "fontSize": 19}, "encoding": {"y": {"field": "pA", "type": "quantitative", "scale": {"domain": [-338.5, -23.5], "nice": false, "zero": false}, "axis": null}, "text": {"field": "label"}}},
    {"data": {"name": "tB2"}, "mark": {"type": "line", "color": "black", "strokeWidth": 1}, "encoding": {"y": {"field": "pA", "type": "quantitative", "scale": {"domain": [-174.8, 140.2], "nice": false, "zero": false}, "axis": null}, "detail": {"field": "tr"}}},
    {"data": {"name": "lB2"}, "mark": {"type": "text", "fontSize": 18}, "encoding": {"y": {"field": "pA", "type": "quantitative", "scale": {"domain": [-174.8, 140.2], "nice": false, "zero": false}, "axis": null}, "text": {"field": "label"}}},
    {"data": {"name": "sB"}, "mark": {"type": "rule", "color": "black", "strokeWidth": 1.5}, "encoding": {"x2": {"field": "ms2"}, "y": {"field": "pA", "type": "quantitative", "scale": {"domain": [-174.8, 140.2], "nice": false, "zero": false}, "axis": null}, "y2": {"field": "pA2"}}}
   ]
  },
  {"width": 266, "height": 152,
   "title": {"text": "C", "dx": -72, "offset": -14},
   "data": {"name": "C"},
   "encoding": {
    "x": {"field": "t", "type": "quantitative", "scale": {"domain": [-10, 35], "nice": false, "zero": false}, "axis": {"values": [-10, 0, 10, 20, 30], "labelExpr": "replace(datum.label, '−', '-')", "title": "Time (min)"}},
    "y": {"field": "m", "type": "quantitative", "scale": {"domain": [0, 150], "nice": false}, "axis": {"values": [0, 25, 50, 75, 100, 125], "title": "Amplitude (%)"}}
   },
   "layer": [
    {"data": {"values": [{}]}, "mark": {"type": "rule", "strokeDash": [3, 3], "strokeWidth": 1.2, "color": "black"}, "encoding": {"x": {"datum": 0}, "x2": {"datum": 33}, "y": {"datum": 100}}},
    {"mark": {"type": "errorbar", "color": "black", "thickness": 1.5, "ticks": {"size": 6, "thickness": 1.5, "color": "black"}, "rule": {"strokeWidth": 1.5, "color": "black"}}, "encoding": {"yError": {"field": "e"}}},
    {"mark": {"type": "point", "shape": "circle", "filled": true, "size": 100, "stroke": "black", "strokeWidth": 1.2, "opacity": 1}, "encoding": {"fill": {"field": "g", "type": "nominal", "scale": {"domain": ["+/+", "−/−"], "range": ["white", "black"]}, "legend": {"title": null, "orient": "none", "legendX": 73, "legendY": 100.5, "symbolType": "circle", "symbolSize": 170, "symbolStrokeColor": "black", "symbolStrokeWidth": 1.2, "symbolOpacity": 1, "labelFontSize": 19, "labelColor": "black", "labelOffset": 6, "rowPadding": -1, "padding": 0}}}},
    {"data": {"name": "lC"}, "mark": {"type": "text", "fontSize": 19}, "encoding": {"text": {"field": "label"}}}
   ]
  },
  {"width": 111, "height": 152,
   "resolve": {"scale": {"y": "independent"}},
   "encoding": {"x": {"field": "ms", "type": "quantitative", "scale": {"domain": [0, 80], "nice": false, "zero": false}, "axis": null}},
   "layer": [
    {"data": {"name": "tC1"}, "mark": {"type": "line", "color": "black", "strokeWidth": 1}, "encoding": {"y": {"field": "pA", "type": "quantitative", "scale": {"domain": [-364.8, -49.7], "nice": false, "zero": false}, "axis": null}, "detail": {"field": "tr"}}},
    {"data": {"name": "lC1"}, "mark": {"type": "text", "fontSize": 19}, "encoding": {"y": {"field": "pA", "type": "quantitative", "scale": {"domain": [-364.8, -49.7], "nice": false, "zero": false}, "axis": null}, "text": {"field": "label"}}},
    {"data": {"name": "tC2"}, "mark": {"type": "line", "color": "black", "strokeWidth": 1}, "encoding": {"y": {"field": "pA", "type": "quantitative", "scale": {"domain": [-252.8, 62.2], "nice": false, "zero": false}, "axis": null}, "detail": {"field": "tr"}}},
    {"data": {"name": "lC2"}, "mark": {"type": "text", "fontSize": 18}, "encoding": {"y": {"field": "pA", "type": "quantitative", "scale": {"domain": [-252.8, 62.2], "nice": false, "zero": false}, "axis": null}, "text": {"field": "label"}}},
    {"data": {"name": "sC"}, "mark": {"type": "rule", "color": "black", "strokeWidth": 1.5}, "encoding": {"x2": {"field": "ms2"}, "y": {"field": "pA", "type": "quantitative", "scale": {"domain": [-252.8, 62.2], "nice": false, "zero": false}, "axis": null}, "y2": {"field": "pA2"}}}
   ]
  },
  {"width": 266, "height": 152,
   "title": {"text": "D", "dx": -72, "offset": -23},
   "data": {"name": "D"},
   "encoding": {
    "x": {"field": "t", "type": "quantitative", "scale": {"domain": [-10, 35], "nice": false, "zero": false}, "axis": {"values": [-10, 0, 10, 20, 30], "labelExpr": "replace(datum.label, '−', '-')", "title": "Time (min)"}},
    "y": {"field": "m", "type": "quantitative", "scale": {"domain": [0, 150], "nice": false}, "axis": {"values": [0, 25, 50, 75, 100, 125], "title": "Amplitude (%)"}}
   },
   "layer": [
    {"data": {"values": [{}]}, "mark": {"type": "rule", "strokeDash": [3, 3], "strokeWidth": 1.2, "color": "black"}, "encoding": {"x": {"datum": 0}, "x2": {"datum": 33}, "y": {"datum": 100}}},
    {"mark": {"type": "errorbar", "color": "black", "thickness": 1.5, "ticks": {"size": 6, "thickness": 1.5, "color": "black"}, "rule": {"strokeWidth": 1.5, "color": "black"}}, "encoding": {"yError": {"field": "e"}}},
    {"mark": {"type": "point", "shape": "circle", "filled": true, "size": 100, "stroke": "black", "strokeWidth": 1.2, "opacity": 1}, "encoding": {"fill": {"field": "g", "type": "nominal", "scale": {"domain": ["+/+", "−/−"], "range": ["white", "black"]}, "legend": {"title": null, "orient": "none", "legendX": 73, "legendY": 95.5, "symbolType": "circle", "symbolSize": 170, "symbolStrokeColor": "black", "symbolStrokeWidth": 1.2, "symbolOpacity": 1, "labelFontSize": 19, "labelColor": "black", "labelOffset": 6, "rowPadding": -1, "padding": 0}}}},
    {"data": {"name": "lD"}, "mark": {"type": "text", "fontSize": 19}, "encoding": {"text": {"field": "label"}}}
   ]
  },
  {"width": 111, "height": 152,
   "resolve": {"scale": {"y": "independent"}},
   "encoding": {"x": {"field": "ms", "type": "quantitative", "scale": {"domain": [0, 80], "nice": false, "zero": false}, "axis": null}},
   "layer": [
    {"data": {"name": "tD1"}, "mark": {"type": "line", "color": "black", "strokeWidth": 1}, "encoding": {"y": {"field": "pA", "type": "quantitative", "scale": {"domain": [-349.2, 30.8], "nice": false, "zero": false}, "axis": null}, "detail": {"field": "tr"}}},
    {"data": {"name": "lD1"}, "mark": {"type": "text", "fontSize": 19}, "encoding": {"y": {"field": "pA", "type": "quantitative", "scale": {"domain": [-349.2, 30.8], "nice": false, "zero": false}, "axis": null}, "text": {"field": "label"}}},
    {"data": {"name": "tD2"}, "mark": {"type": "line", "color": "black", "strokeWidth": 1}, "encoding": {"y": {"field": "pA", "type": "quantitative", "scale": {"domain": [-95, 285], "nice": false, "zero": false}, "axis": null}, "detail": {"field": "tr"}}},
    {"data": {"name": "lD2"}, "mark": {"type": "text", "fontSize": 18}, "encoding": {"y": {"field": "pA", "type": "quantitative", "scale": {"domain": [-95, 285], "nice": false, "zero": false}, "axis": null}, "text": {"field": "label"}}},
    {"data": {"name": "sD"}, "mark": {"type": "rule", "color": "black", "strokeWidth": 1.5}, "encoding": {"x2": {"field": "ms2"}, "y": {"field": "pA", "type": "quantitative", "scale": {"domain": [-95, 285], "nice": false, "zero": false}, "axis": null}, "y2": {"field": "pA2"}}}
   ]
  },
 {"width": 266, "height": 169,
  "title": {"text": "E", "dx": -72, "offset": -16},
  "data": {"name": "E"},
  "encoding": {
   "x": {"field": "n", "type": "quantitative", "scale": {"type": "log", "domain": [1, 20], "range": [81, 362], "nice": false}, "axis": {"values": [1, 2, 3, 4, 5, 6, 7, 8, 9, 10, 20], "labelExpr": "indexof([1,2,5,10,20], datum.value) >= 0 ? datum.label : ''", "title": "No. of conjunctions", "titleFontSize": 19, "labelFontSize": 19, "labelPadding": 3, "titlePadding": 3, "domainWidth": 3, "tickWidth": 2.5, "tickSize": 6, "offset": 1}},
   "y": {"field": "m", "type": "quantitative", "scale": {"domain": [25, 125], "nice": false, "zero": false}, "axis": {"values": [25, 50, 75, 100, 125], "title": ["Amplitude at 30 min", "after conditioning (%)"], "titleLineHeight": 26, "labelFontSize": 19, "domainWidth": 3, "tickWidth": 2.5, "tickSize": 6, "offset": -50.7}}
  },
  "layer": [
   {"data": {"values": [{}]}, "mark": {"type": "rule", "strokeDash": [3, 4], "strokeWidth": 1.2, "color": "black"}, "encoding": {"x": {"datum": 1}, "x2": {"datum": 20}, "y": {"datum": 100}}},
   {"mark": {"type": "line", "color": "black", "strokeWidth": 1}, "encoding": {"detail": {"field": "g"}}},
   {"mark": {"type": "errorbar", "color": "black", "thickness": 2, "ticks": {"size": 8, "thickness": 2, "color": "black"}, "rule": {"strokeWidth": 2, "color": "black"}}, "encoding": {"yError": {"field": "e"}}},
   {"mark": {"type": "point", "shape": "circle", "filled": true, "size": 130, "stroke": "black", "strokeWidth": 1.2, "opacity": 1}, "encoding": {"fill": {"field": "g", "type": "nominal", "scale": {"domain": ["+/+", "−/−"], "range": ["white", "black"]}, "legend": {"title": null, "orient": "none", "legendX": 74.3, "legendY": 121.2, "symbolType": "circle", "symbolSize": 170, "symbolStrokeColor": "black", "symbolStrokeWidth": 1.2, "symbolOpacity": 1, "labelFontSize": 19, "labelColor": "black", "labelOffset": 6, "rowPadding": 0, "padding": 0}}}}
  ]
 }
],
"columns": 2,
"spacing": {"row": 74, "column": 22},
"bounds": "flush",
"align": {"row": "each", "column": "none"},
"resolve": {"scale": {"x": "independent", "y": "independent", "fill": "independent"}}
}
